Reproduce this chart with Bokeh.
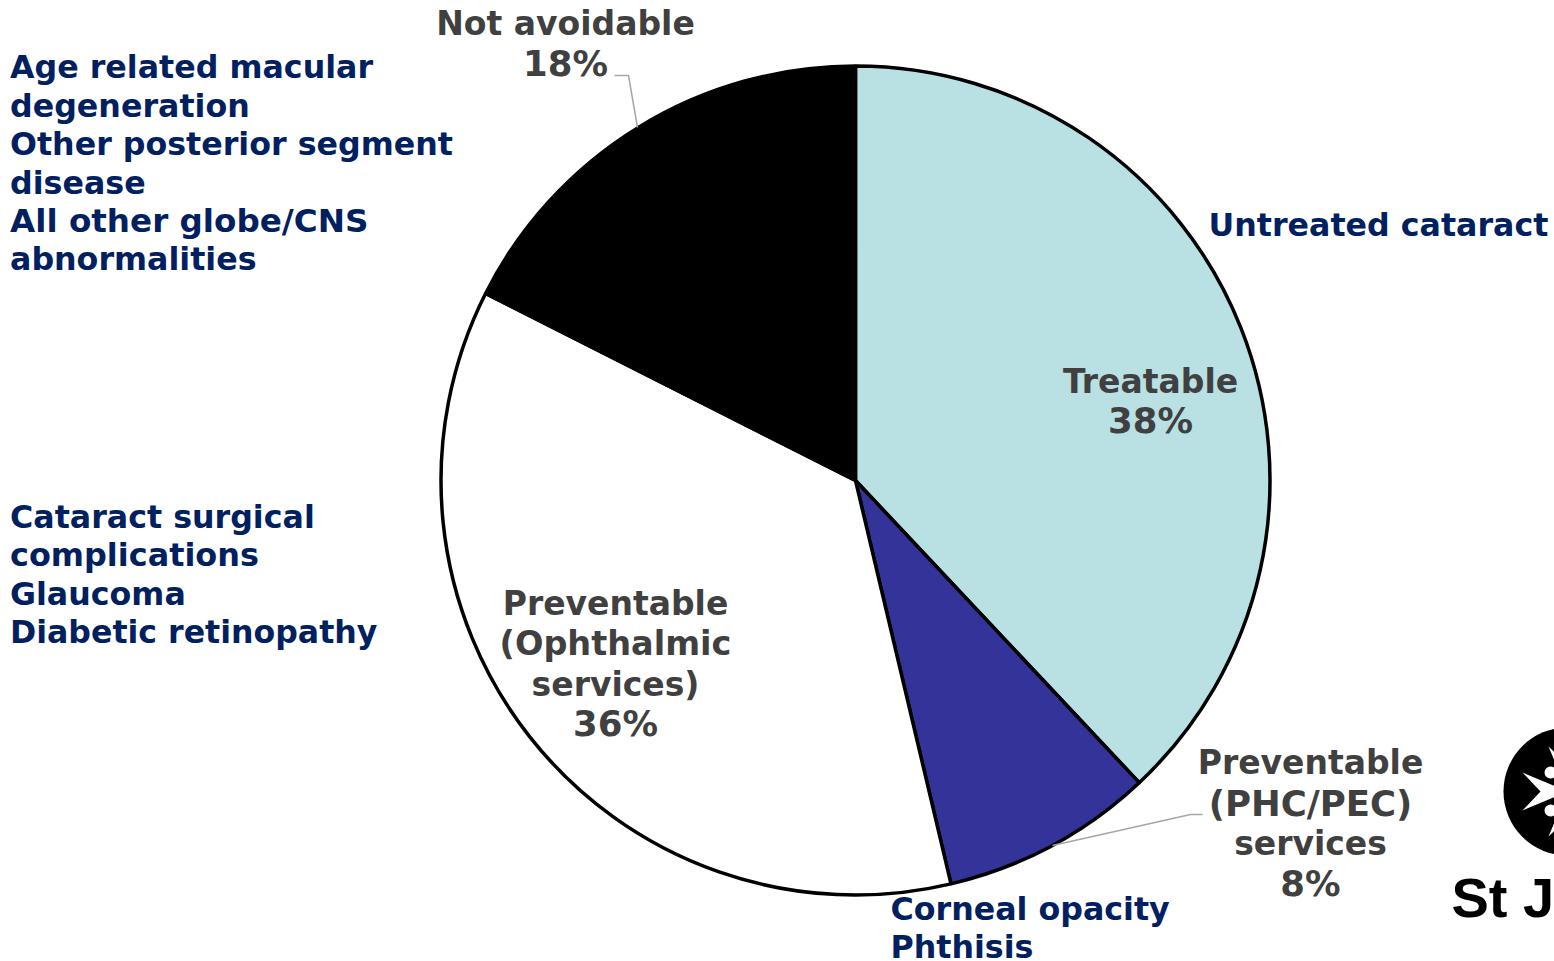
import math
from bokeh.plotting import figure
from bokeh.models import Range1d, ColumnDataSource
from bokeh.core.properties import value
from bokeh.embed import file_html
from bokeh.resources import INLINE

slice_names = ["Treatable", "Preventable (PHC/PEC) services", "Preventable (Ophthalmic services)", "Not avoidable"]
slice_values = [38.0, 8.3, 36.15, 17.55]
slice_colors = ["#B9E0E3", "#333399", "#FFFFFF", "#000000"]

treatable_label = ["Treatable", "38%"]
phc_label = ["Preventable", "(PHC/PEC)", "services", "8%"]
ophthalmic_label = ["Preventable", "(Ophthalmic", "services)", "36%"]
not_avoidable_label = ["Not avoidable", "18%"]
not_avoidable_causes = ["Age related macular", "degeneration", "Other posterior segment", "disease",
                        "All other globe/CNS", "abnormalities"]
ophthalmic_causes = ["Cataract surgical", "complications", "Glaucoma", "Diabetic retinopathy"]
treatable_causes = ["Untreated cataract"]
phc_causes = ["Corneal opacity", "Phthisis"]
logo_text = "St John"

W, H = 1554, 961
p = figure(width=W, height=H, output_backend="svg", toolbar_location=None,
           x_range=Range1d(0, W), y_range=Range1d(-H, 0),
           min_border=0, outline_line_color=None, background_fill_color="white")
p.axis.visible = False
p.grid.visible = False

Y = lambda v: -v
cx, cy, r = 855, 480, 414.5

total = sum(slice_values)
start = math.pi / 2
for v, c in zip(slice_values, slice_colors):
    end = start - 2 * math.pi * v / total
    p.wedge(x=[cx], y=[Y(cy)], radius=r, start_angle=end, end_angle=start, direction="anticlock",
            fill_color=c, line_color="black", line_width=3.5)
    start = end

# leader lines
p.line([614, 628, 637], [Y(75), Y(75), Y(127)], line_color="#A6A6A6", line_width=1.5)
p.line([1202, 1190, 1052], [Y(814), Y(814), Y(845)], line_color="#A6A6A6", line_width=1.5)


def put(lines, x, ys, sizes, color, align):
    src = ColumnDataSource(dict(x=[x] * len(lines), y=[Y(v) for v in ys], t=lines,
                                s=[f"{s}px" for s in sizes]))
    p.text(x="x", y="y", text="t", source=src, text_font=value("DejaVu Sans"),
           text_font_style="bold", text_font_size="s", text_color=color,
           text_align=align, text_baseline="middle")


G, N = "#404040", "#002060"
put(treatable_label, 1150, [381, 420], [33, 35.5], G, "center")
put(phc_label, 1310, [762, 803, 843, 883], [33, 35.5, 33, 35.5], G, "center")
put(ophthalmic_label, 615, [603, 643, 684, 723], [33, 33.5, 33, 35.5], G, "center")
put(not_avoidable_label, 565, [23, 63], [33, 35.5], G, "center")
put(not_avoidable_causes, 9.5, [66, 105, 143, 182, 220, 258.5], [31.7, 31.7, 31.7, 31.7, 32.6, 31.7], N, "left")
put(ophthalmic_causes, 9.5, [516, 554, 593, 631], [31.7, 31.9, 31.7, 31.6], N, "left")
put(treatable_causes, 1208, [224], [31.7], N, "left")
put(phc_causes, 890, [908, 946], [31.7, 31.7], N, "left")

# logo (clipped by the page edge, as in the source image)
lx, ly = 1567, 791
p.circle(x=[lx], y=[Y(ly)], radius=64, fill_color="black", line_color=None)
for ang in (0, 90, 180, 270):
    a = math.radians(ang)
    pts = [(-45, -19), (-27, 0), (-45, 19), (0, 0)]
    xs = [lx + u * math.cos(a) - w * math.sin(a) for u, w in pts]
    ys = [Y(ly + u * math.sin(a) + w * math.cos(a)) for u, w in pts]
    p.patch(xs, ys, fill_color="white", line_color=None)
for dy in (-19, 19):
    p.circle(x=[1550], y=[Y(ly + dy)], radius=6, fill_color="white", line_color=None)
p.text(x=[1451], y=[Y(897)], text=[logo_text], text_font=value("Liberation Sans"),
       text_font_style="bold", text_font_size="56px", text_color="black",
       text_align="left", text_baseline="middle")

open("out.html", "w").write(file_html(p, INLINE))
